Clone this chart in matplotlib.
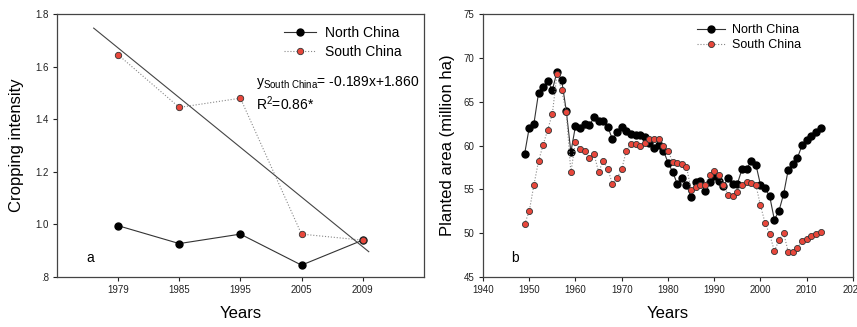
import numpy as np
import matplotlib
matplotlib.use('Agg')
import matplotlib.pyplot as plt
from matplotlib.ticker import FuncFormatter

plt.rcParams['font.family'] = ['Liberation Sans', 'DejaVu Sans']
plt.rcParams['mathtext.fontset'] = 'custom'
plt.rcParams['mathtext.rm'] = 'Liberation Sans'
plt.rcParams['mathtext.it'] = 'Liberation Sans'

# panel a: cropping intensity
survey_years = ['1979', '1985', '1995', '2005', '2009']
north_ci = [0.995, 0.927, 0.963, 0.845, 0.940]
south_ci = [1.645, 1.445, 1.480, 0.963, 0.940]
fit_slope = -0.189
fit_icpt = 1.860
fit_range = [0.6, 5.1]

# panel b: planted area (million ha)
years = list(range(1949, 2014))
north_area = [59.05, 62.05, 62.47, 65.96, 66.72, 67.37, 66.34, 68.43, 67.48, 63.99,
              59.24, 62.24, 62.05, 62.43, 62.30, 63.20, 62.85, 62.85, 62.10, 60.70,
              61.50, 62.16, 61.67, 61.33, 61.25, 61.18, 60.95, 60.26, 59.77, 60.04,
              59.43, 58.06, 57.00, 55.63, 56.28, 55.52, 54.07, 55.86, 55.97, 54.83,
              55.78, 56.54, 55.97, 55.33, 56.35, 55.63, 55.63, 57.30, 57.30, 58.25,
              57.83, 55.52, 55.10, 54.19, 51.53, 52.55, 54.45, 57.23, 57.90, 58.60,
              60.04, 60.68, 61.10, 61.52, 62.05]
south_area = [51.03, 52.52, 55.48, 58.21, 60.07, 61.82, 63.64, 68.16, 66.34, 63.83,
              56.96, 60.38, 59.58, 59.43, 58.60, 59.05, 56.96, 58.29, 57.30, 55.59,
              56.31, 57.30, 59.43, 60.19, 60.19, 60.00, 60.34, 60.80, 60.80, 60.80,
              60.00, 59.39, 58.14, 58.06, 57.90, 57.57, 54.95, 55.25, 55.52, 55.52,
              56.62, 57.11, 56.58, 55.52, 54.34, 54.19, 54.64, 55.52, 55.86, 55.74,
              55.52, 53.16, 51.15, 49.86, 47.96, 49.21, 50.01, 47.88, 47.88, 48.34,
              49.10, 49.36, 49.63, 49.86, 50.08]

red = '#e8473b'
spine_col = '#444444'


def style_axes(ax):
    for s in ax.spines.values():
        s.set_color(spine_col)
        s.set_linewidth(0.9)
    ax.tick_params(direction='out', length=3, width=0.8, labelsize=7, pad=3,
                   colors='#222222', top=False, right=False)


fig = plt.figure(figsize=(8.57, 3.27), dpi=100)

# ---- panel a
ax1 = fig.add_axes([0.0665, 0.153, 0.428, 0.804])
xpos = np.arange(1, len(survey_years) + 1)
ax1.plot(xpos, north_ci, '-', color='#333333', lw=0.8, marker='o', ms=5,
         mfc='black', mec='black', label='North China')
ax1.plot(xpos, south_ci, ':', color='#888888', lw=0.8, marker='o', ms=4.6,
         mfc=red, mec='#333333', mew=0.6, label='South China')
fx = np.array(fit_range)
ax1.plot(fx, fit_slope * fx + fit_icpt, '-', color='#444444', lw=0.8)
ax1.set_xlim(0, 6)
ax1.set_ylim(0.8, 1.8)
ax1.set_xticks(xpos)
ax1.set_xticklabels(survey_years)
ax1.set_yticks(np.arange(0.8, 1.81, 0.2))
ax1.yaxis.set_major_formatter(FuncFormatter(lambda v, p: ('%.1f' % v).lstrip('0')))
style_axes(ax1)
ax1.set_ylabel('Cropping intensity', fontsize=12, labelpad=8)
ax1.set_xlabel('Years', fontsize=12, labelpad=8)
ax1.legend(loc='upper left', bbox_to_anchor=(0.619, 0.955), frameon=False,
           fontsize=10, borderpad=0, borderaxespad=0, handlelength=2.3,
           handletextpad=0.65, labelspacing=0.38)
ax1.text(0.542, 0.741, r'$\mathrm{y_{South\ China}}$= -0.189x+1.860',
         transform=ax1.transAxes, fontsize=10, va='center', ha='left')
ax1.text(0.542, 0.658, r'$\mathrm{R^2}$=0.86*', transform=ax1.transAxes,
         fontsize=10, va='center', ha='left')
ax1.text(0.09, 0.072, 'a', transform=ax1.transAxes, fontsize=10,
         va='center', ha='center')

# ---- panel b
ax2 = fig.add_axes([0.5636, 0.153, 0.4317, 0.804])
ax2.plot(years, north_area, '-', color='#333333', lw=0.8, marker='o', ms=5,
         mfc='black', mec='black', label='North China')
ax2.plot(years, south_area, ':', color='#888888', lw=0.8, marker='o', ms=4.4,
         mfc=red, mec='#333333', mew=0.6, label='South China')
ax2.set_xlim(1940, 2020)
ax2.set_ylim(45, 75)
ax2.set_xticks(range(1940, 2021, 10))
ax2.set_yticks(range(45, 76, 5))
style_axes(ax2)
ax2.set_ylabel('Planted area (million ha)', fontsize=12, labelpad=6)
ax2.set_xlabel('Years', fontsize=12, labelpad=8)
ax2.legend(loc='upper left', bbox_to_anchor=(0.578, 0.962), frameon=False,
           fontsize=9, borderpad=0, borderaxespad=0, handlelength=2.24,
           handletextpad=0.56, labelspacing=0.25)
ax2.text(0.086, 0.072, 'b', transform=ax2.transAxes, fontsize=10,
         va='center', ha='center')

fig.savefig('out.png', dpi=100)
